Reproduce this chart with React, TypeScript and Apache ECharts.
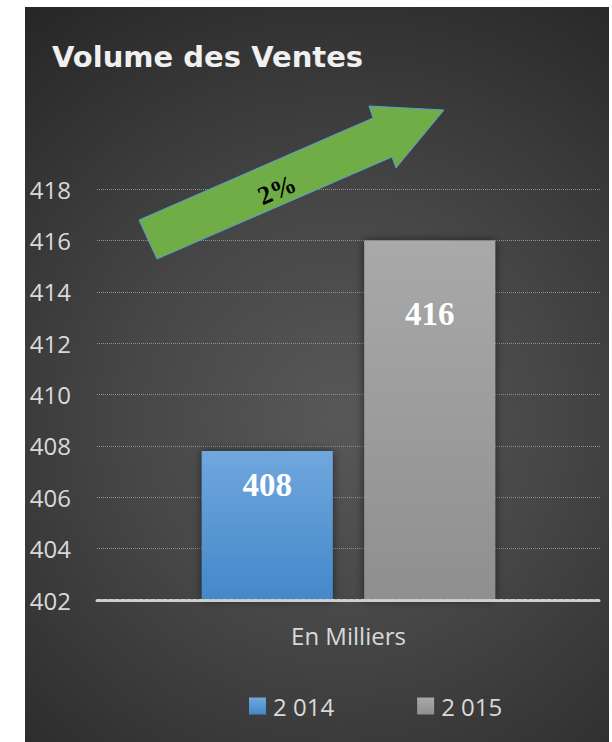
import React, { useEffect, useRef } from "react";
import * as echarts from "echarts";

const title = "Volume des Ventes";
const categories = ["En Milliers"];
const seriesNames = ["2 014", "2 015"];
const values2014 = [407.8];
const values2015 = [416];
const yMin = 402;
const yMax = 418;
const yInterval = 2;

const growthPct = Math.round(((values2015[0] - values2014[0]) / values2014[0]) * 100);

const FONT = "'Open Sans', sans-serif";
const LABEL_COLOR = "#d9d9d9";

export default function App() {
  const ref = useRef<HTMLDivElement>(null);
  useEffect(() => {
    if (!ref.current) return;
    const chart = echarts.init(ref.current, null, { renderer: "svg" });
    const blue = new echarts.graphic.LinearGradient(0, 0, 0, 1, [
      { offset: 0, color: "#70a7dd" },
      { offset: 1, color: "#4388ca" },
    ]);
    const gray = new echarts.graphic.LinearGradient(0, 0, 0, 1, [
      { offset: 0, color: "#a9a9a9" },
      { offset: 1, color: "#8f8f8f" },
    ]);
    const labelBase = {
      show: true,
      position: "insideTop",
      color: "#ffffff",
      fontFamily: "'Liberation Serif', 'Times New Roman', serif",
      fontWeight: "bold",
      fontSize: 33,
      formatter: (p: any) => String(Math.round(p.value)),
    };
    chart.setOption({
      animation: false,
      title: {
        text: title,
        left: 27,
        top: 35,
        padding: 0,
        textStyle: {
          fontFamily: "'DejaVu Sans', sans-serif",
          fontWeight: "bold",
          fontSize: 29,
          color: "#f0f0f0",
        },
      },
      grid: { left: 72, right: 9, top: 182, bottom: 142, containLabel: false },
      legend: {
        data: seriesNames,
        left: 224,
        top: 687,
        padding: 0,
        itemWidth: 17,
        itemHeight: 17,
        itemGap: 83,
        icon: "rect",
        textStyle: { fontFamily: FONT, fontSize: 24, color: LABEL_COLOR, padding: [0, 0, 0, 2] },
      },
      xAxis: {
        type: "category",
        data: categories,
        z: 5,
        axisTick: { show: false },
        axisLine: { show: true, lineStyle: { color: "#cfcfcf", width: 3, type: [4, 2] } },
        axisLabel: { fontFamily: FONT, fontSize: 24, color: LABEL_COLOR, margin: 23 },
      },
      yAxis: {
        type: "value",
        min: yMin,
        max: yMax,
        interval: yInterval,
        axisLine: { show: false },
        axisTick: { show: false },
        axisLabel: { fontFamily: FONT, fontSize: 24, color: LABEL_COLOR, margin: 26 },
        splitLine: { lineStyle: { color: "#8f8f8f", type: "dotted", width: 1 } },
      },
      series: [
        {
          name: seriesNames[0],
          type: "bar",
          data: values2014,
          barWidth: 131,
          barGap: "24%",
          itemStyle: { color: blue, shadowBlur: 10, shadowColor: "rgba(0,0,0,0.55)" },
          label: { ...labelBase, distance: 17 },
        },
        {
          name: seriesNames[1],
          type: "bar",
          data: values2015,
          barWidth: 131,
          barGap: "24%",
          itemStyle: { color: gray, shadowBlur: 10, shadowColor: "rgba(0,0,0,0.55)" },
          label: { ...labelBase, distance: 57 },
        },
      ],
      graphic: [
        {
          type: "polygon",
          z: 100,
          shape: {
            points: [
              [114, 213],
              [132, 252],
              [367, 150],
              [371, 161],
              [419, 103],
              [344, 99],
              [348, 111],
            ],
          },
          style: { fill: "#70ad47", stroke: "#5b9bd5", lineWidth: 1 },
        },
        {
          type: "text",
          z: 101,
          x: 252,
          y: 183,
          rotation: 0.41,
          style: {
            text: growthPct + "%",
            x: 0,
            y: 0,
            align: "center",
            verticalAlign: "middle",
            fill: "#000000",
            font: "bold 26px 'Liberation Serif', 'Times New Roman', serif",
          },
        },
      ],
    });
    return () => chart.dispose();
  }, []);
  return (
    <div
      ref={ref}
      style={{
        position: "absolute",
        left: 25,
        top: 7,
        width: 584,
        height: 735,
        background:
          "radial-gradient(circle farthest-corner at 54% 56%, #585858 0%, #474747 40%, #262626 100%)",
      }}
    />
  );
}
